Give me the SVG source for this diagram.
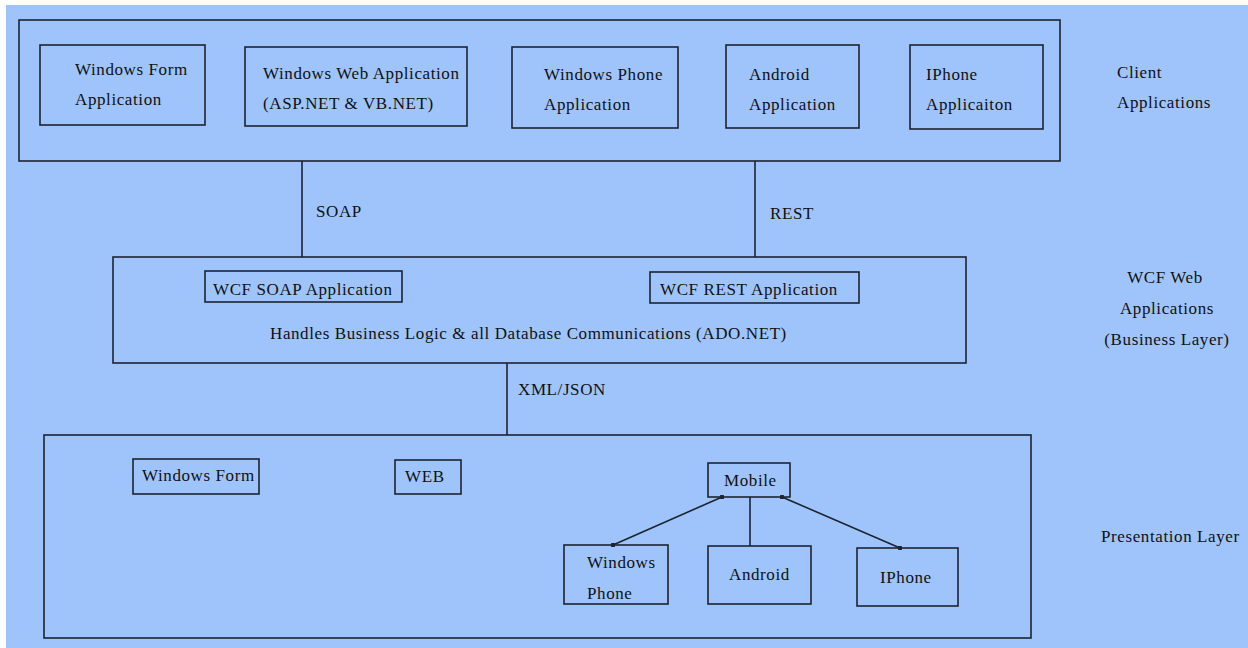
<svg xmlns="http://www.w3.org/2000/svg" width="1248" height="648" viewBox="0 0 1248 648">
<style>
.bg{fill:#9fc4fc}
.box{fill:none;stroke:#1c2333;stroke-width:1.6}
.ln{stroke:#1c2333;stroke-width:1.6;fill:none}
text{font-family:"Liberation Serif","Times New Roman",serif;font-size:17px;fill:#111;letter-spacing:0.6px}
.c{text-anchor:middle}
</style>
<defs>
<marker id="dot" viewBox="0 0 4 4" refX="2" refY="2" markerWidth="3" markerHeight="3"><circle cx="2" cy="2" r="2" fill="#1c2333"/></marker>
</defs>
<rect x="0" y="0" width="1248" height="648" fill="#ffffff"/>
<rect class="bg" x="6" y="5" width="1242" height="643"/>

<g id="client-layer">
<rect class="box" x="19" y="20" width="1041" height="141"/>
</g>
<g id="win-form-app"><rect class="box" x="40" y="45" width="165" height="80"/><text x="75" y="75">Windows Form</text><text x="75" y="105">Application</text></g>
<g id="win-web-app"><rect class="box" x="245" y="47" width="222" height="79"/><text x="263" y="79">Windows Web Application</text><text x="263" y="109">(ASP.NET &amp; VB.NET)</text></g>
<g id="win-phone-app"><rect class="box" x="512" y="47" width="166" height="81"/><text x="544" y="80">Windows Phone</text><text x="544" y="110">Application</text></g>
<g id="android-app"><rect class="box" x="726" y="45" width="133" height="83"/><text x="749" y="80">Android</text><text x="749" y="110">Application</text></g>
<g id="iphone-app"><rect class="box" x="910" y="45" width="133" height="84"/><text x="926" y="80">IPhone</text><text x="926" y="110">Applicaiton</text></g>
<g id="client-label"><text x="1117" y="78">Client</text><text x="1117" y="108">Applications</text></g>

<g id="business-layer">
<rect class="box" x="113" y="257" width="853" height="106"/>
<text x="270" y="339">Handles Business Logic &amp; all Database Communications (ADO.NET)</text>
</g>
<g id="wcf-soap"><rect class="box" x="205" y="271" width="197" height="31"/><text x="213" y="295">WCF SOAP Application</text></g>
<g id="wcf-rest"><rect class="box" x="650" y="272" width="209" height="31"/><text x="660" y="295">WCF REST Application</text></g>
<g id="business-label"><text class="c" x="1165" y="283">WCF Web</text><text class="c" x="1167" y="314">Applications</text><text class="c" x="1167" y="345">(Business Layer)</text></g>

<g id="presentation-layer">
<rect class="box" x="44" y="435" width="987" height="203"/>
</g>
<g id="pl-win-form"><rect class="box" x="133" y="459" width="126" height="35"/><text x="142" y="481">Windows Form</text></g>
<g id="pl-web"><rect class="box" x="395" y="460" width="66" height="34"/><text x="405" y="482">WEB</text></g>
<g id="pl-mobile"><rect class="box" x="708" y="463" width="82" height="34"/><text x="724" y="486">Mobile</text></g>
<g id="pl-win-phone"><rect class="box" x="564" y="545" width="104" height="59"/><text x="587" y="568">Windows</text><text x="587" y="599">Phone</text></g>
<g id="pl-android"><rect class="box" x="708" y="546" width="103" height="58"/><text x="729" y="580">Android</text></g>
<g id="pl-iphone"><rect class="box" x="857" y="548" width="101" height="58"/><text x="880" y="583">IPhone</text></g>
<g id="presentation-label"><text x="1101" y="542">Presentation Layer</text></g>

<g id="connectors">
<line class="ln" x1="302" y1="161" x2="302" y2="257"/>
<text x="316" y="217">SOAP</text>
<line class="ln" x1="755" y1="161" x2="755" y2="257"/>
<text x="770" y="219">REST</text>
<line class="ln" x1="507" y1="363" x2="507" y2="435"/>
<text x="518" y="395">XML/JSON</text>
<line class="ln" x1="613" y1="545" x2="722" y2="497" marker-start="url(#dot)" marker-end="url(#dot)"/>
<line class="ln" x1="750" y1="497" x2="750" y2="546"/>
<line class="ln" x1="900" y1="548" x2="782" y2="497" marker-start="url(#dot)" marker-end="url(#dot)"/>
</g>
</svg>
